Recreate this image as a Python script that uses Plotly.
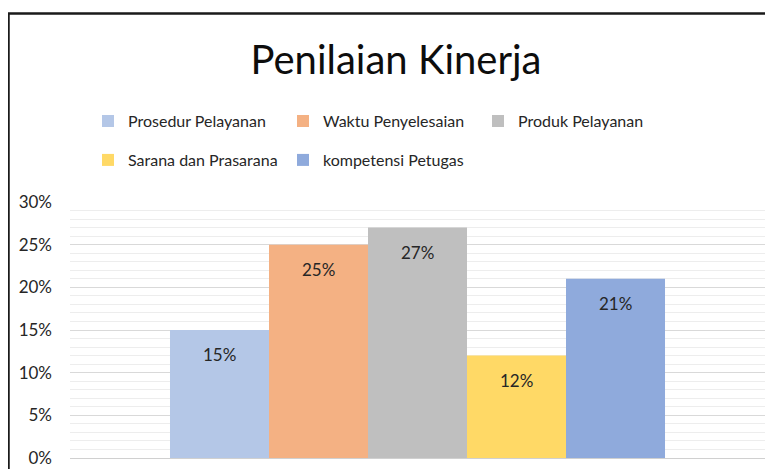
import plotly.graph_objects as go

categories = ["Prosedur Pelayanan", "Waktu Penyelesaian", "Produk Pelayanan",
              "Sarana dan Prasarana", "kompetensi Petugas"]
values = [15, 25, 27, 12, 21]
labels = ["15%", "25%", "27%", "12%", "21%"]
colors = ["#b4c7e7", "#f4b183", "#bfbfbf", "#ffd966", "#8faadc"]
ytick_vals = [0, 5, 10, 15, 20, 25, 30]
ytick_text = ["0%", "5%", "10%", "15%", "20%", "25%", "30%"]

FONT = "Lato"
# page body has an 8px margin, so the figure is 8px smaller on each axis
W, H = 765, 461
fig = go.Figure()
for i, (c, v, col) in enumerate(zip(categories, values, colors)):
    fig.add_trace(go.Bar(
        x=[i], y=[v], width=[1], name=c, marker=dict(color=col, line=dict(width=0)),
        legend="legend" if i < 3 else "legend2", hoverinfo="skip",
    ))
    fig.add_annotation(x=i, y=v, text=labels[i], showarrow=False, yanchor="top",
                       yshift=-12, font=dict(family=FONT, size=17, color="#262626"))

leg_common = dict(orientation="h", x=0.0259, xanchor="left", yanchor="middle",
                  entrywidth=150, entrywidthmode="pixels", traceorder="normal",
                  font=dict(family=FONT, size=16, color="#262626"),
                  bgcolor="rgba(0,0,0,0)")

fig.update_layout(
    width=W, height=H,
    margin=dict(l=62, r=8, t=194, b=11, autoexpand=False),
    paper_bgcolor="white", plot_bgcolor="white",
    barmode="overlay",
    title=dict(text="Penilaian Kinerja", x=388 / W, xref="container", xanchor="center",
               y=1 - 52 / H, yref="container", yanchor="middle",
               font=dict(family=FONT, size=40, color="#0d0d0d")),
    legend=dict(y=1.316, **leg_common),
    legend2=dict(y=1.164, **leg_common),
    xaxis=dict(range=[-1.51, 5.51], showticklabels=False, showgrid=False, zeroline=False,
               showline=True, linecolor="#d0d0d0", linewidth=1, fixedrange=True,
               automargin=False),
    yaxis=dict(range=[0, 30], tickvals=ytick_vals, ticktext=ytick_text,
               showgrid=True, gridcolor="#d9d9d9", gridwidth=1, zeroline=False,
               ticks="", ticklabelstandoff=17, automargin=False,
               tickfont=dict(family=FONT, size=17, color="#262626"),
               minor=dict(dtick=1, showgrid=True, gridcolor="#ededed", gridwidth=1),
               fixedrange=True),
    shapes=[dict(type="rect", xref="paper", yref="paper",
                 x0=-0.0885, x1=1.05, y0=-0.2, y1=1.736,
                 line=dict(color="#1a1a1a", width=2.5), fillcolor="rgba(0,0,0,0)", layer="above")],
    showlegend=True,
)
fig.write_html("out.html")
